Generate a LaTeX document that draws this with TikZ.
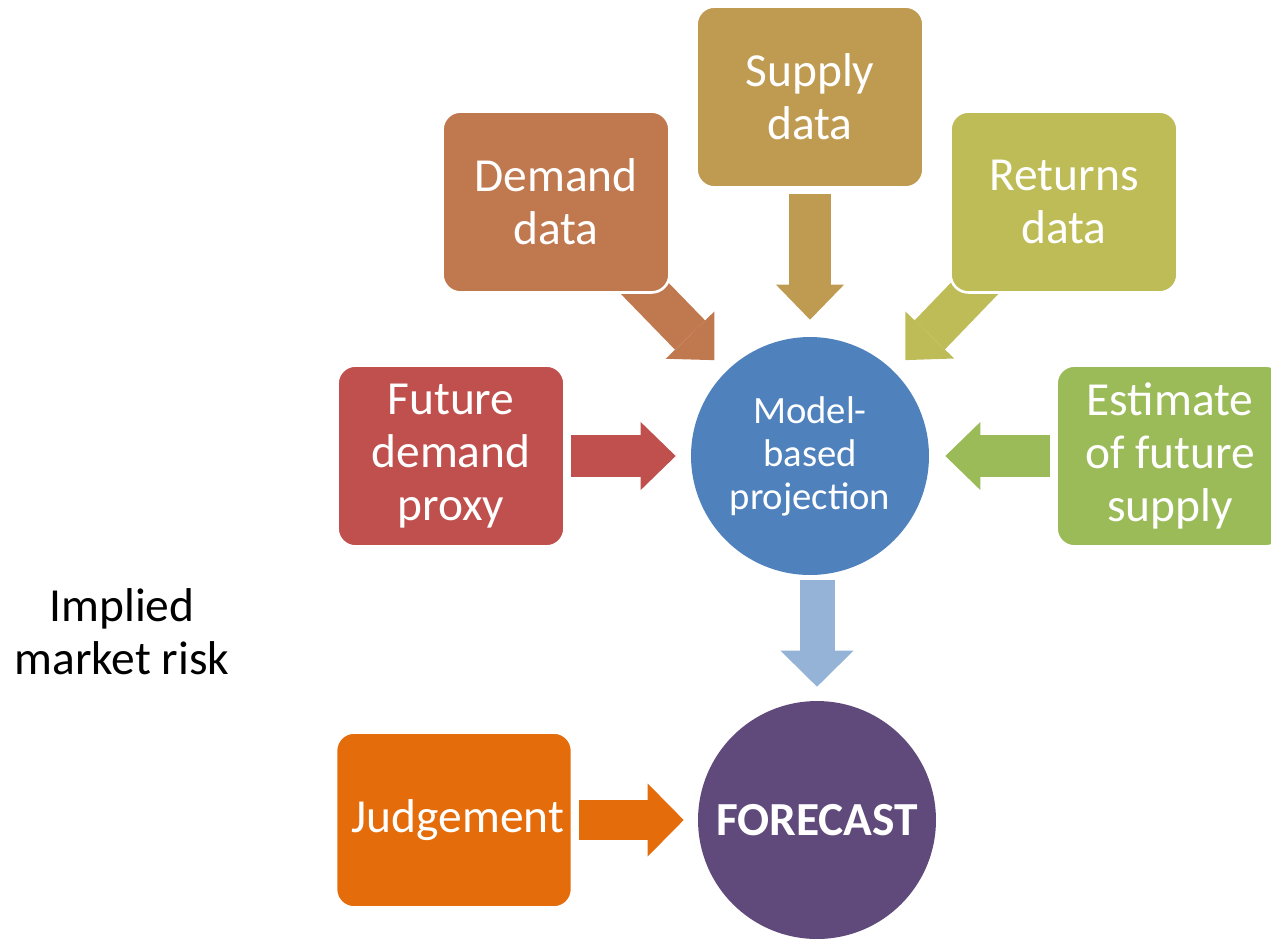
\documentclass[tikz,border=0pt]{standalone}
\usepackage{fontspec}
\setmainfont{Carlito}
\usepackage{tikz}
\usetikzlibrary{arrows.meta}
\usetikzlibrary{backgrounds}
\usetikzlibrary{positioning}

\definecolor{demcol}{HTML}{C0784E}
\definecolor{supcol}{HTML}{BF9B52}
\definecolor{retcol}{HTML}{BEBC56}
\definecolor{fdpcol}{HTML}{C0504D}
\definecolor{estcol}{HTML}{9BBB59}
\definecolor{modcol}{HTML}{4F81BD}
\definecolor{lightcol}{HTML}{95B3D7}
\definecolor{fccol}{HTML}{604A7B}
\definecolor{judcol}{HTML}{E46C0A}

\begin{document}
\begin{tikzpicture}
          [x=0.02cm, y=-0.02cm,
           every node/.style={text=white, align=center, inner sep=0pt},
           box/.style={draw=white, line width=1.5pt, rounded corners=0.36cm,
             minimum width=4.54cm, minimum height=3.62cm,
             font=\fontsize{27}{30}\selectfont},
           disc/.style={circle, minimum size=4.76cm},
           fat/.style={line width=0.84cm,
             -{Triangle[length=0.7cm, width=1.36cm, line width=0pt]}},
           slim/.style={line width=0.72cm,
             -{Triangle[length=0.72cm, width=1.46cm, line width=0pt]}}]
          \useasboundingbox (0,0) rectangle (1271,938);

          \node (model) [disc, fill=modcol, font=\fontsize{22}{24.5}\selectfont] at (810,456) {Model-\\based\\projection};
          \node (dem) [box, fill=demcol] at (556,202) {Demand\\data};
          \node (sup) [box, fill=supcol] at (810,97) {Supply\\data};
          \node (ret) [box, fill=retcol] at (1064,202) {Returns\\data};
          \node (fdp) [box, fill=fdpcol] at (451,456) {Future\\demand\\proxy};
          \node (est) [box, fill=estcol] at (1170,456) {Estimate\\of future\\supply};
          \node (fc) [disc, fill=fccol, font=\fontsize{27}{29}\selectfont\bfseries] at (817,820) {FORECAST};
          \node (jud) [box, fill=judcol, minimum width=4.72cm, minimum height=3.5cm] at (454,820) {\hspace{0.16cm}Judgement};
          \node (risk) [text=black, font=\fontsize{27}{30}\selectfont] at (122,632) {Implied\\market risk};

          \begin{scope}[on background layer]
            \draw[fat, demcol, shorten >=0.32cm] ([shift={(-50,-30)}]dem.south east) -- (model.135);
            \draw[fat, retcol, shorten >=0.32cm] ([shift={(49,-30)}]ret.south west) -- (model.45);
            \draw[fat, supcol, shorten <=0.1cm, shorten >=0.34cm] (sup) -- (model);
            \draw[fat, fdpcol, shorten <=0.1cm, shorten >=0.3cm] (fdp) -- (model);
            \draw[fat, estcol, shorten <=0.1cm, shorten >=0.32cm] (est) -- (model);
            \draw[slim, lightcol, line width=0.7cm, shorten <=0.1cm, shorten >=0.28cm] (fc.north |- model.south) -- (fc);
            \draw[slim, judcol, line width=0.8cm, shorten <=0.12cm, shorten >=0.28cm] (jud) -- (fc);
          \end{scope}

        \end{tikzpicture}
\end{document}
